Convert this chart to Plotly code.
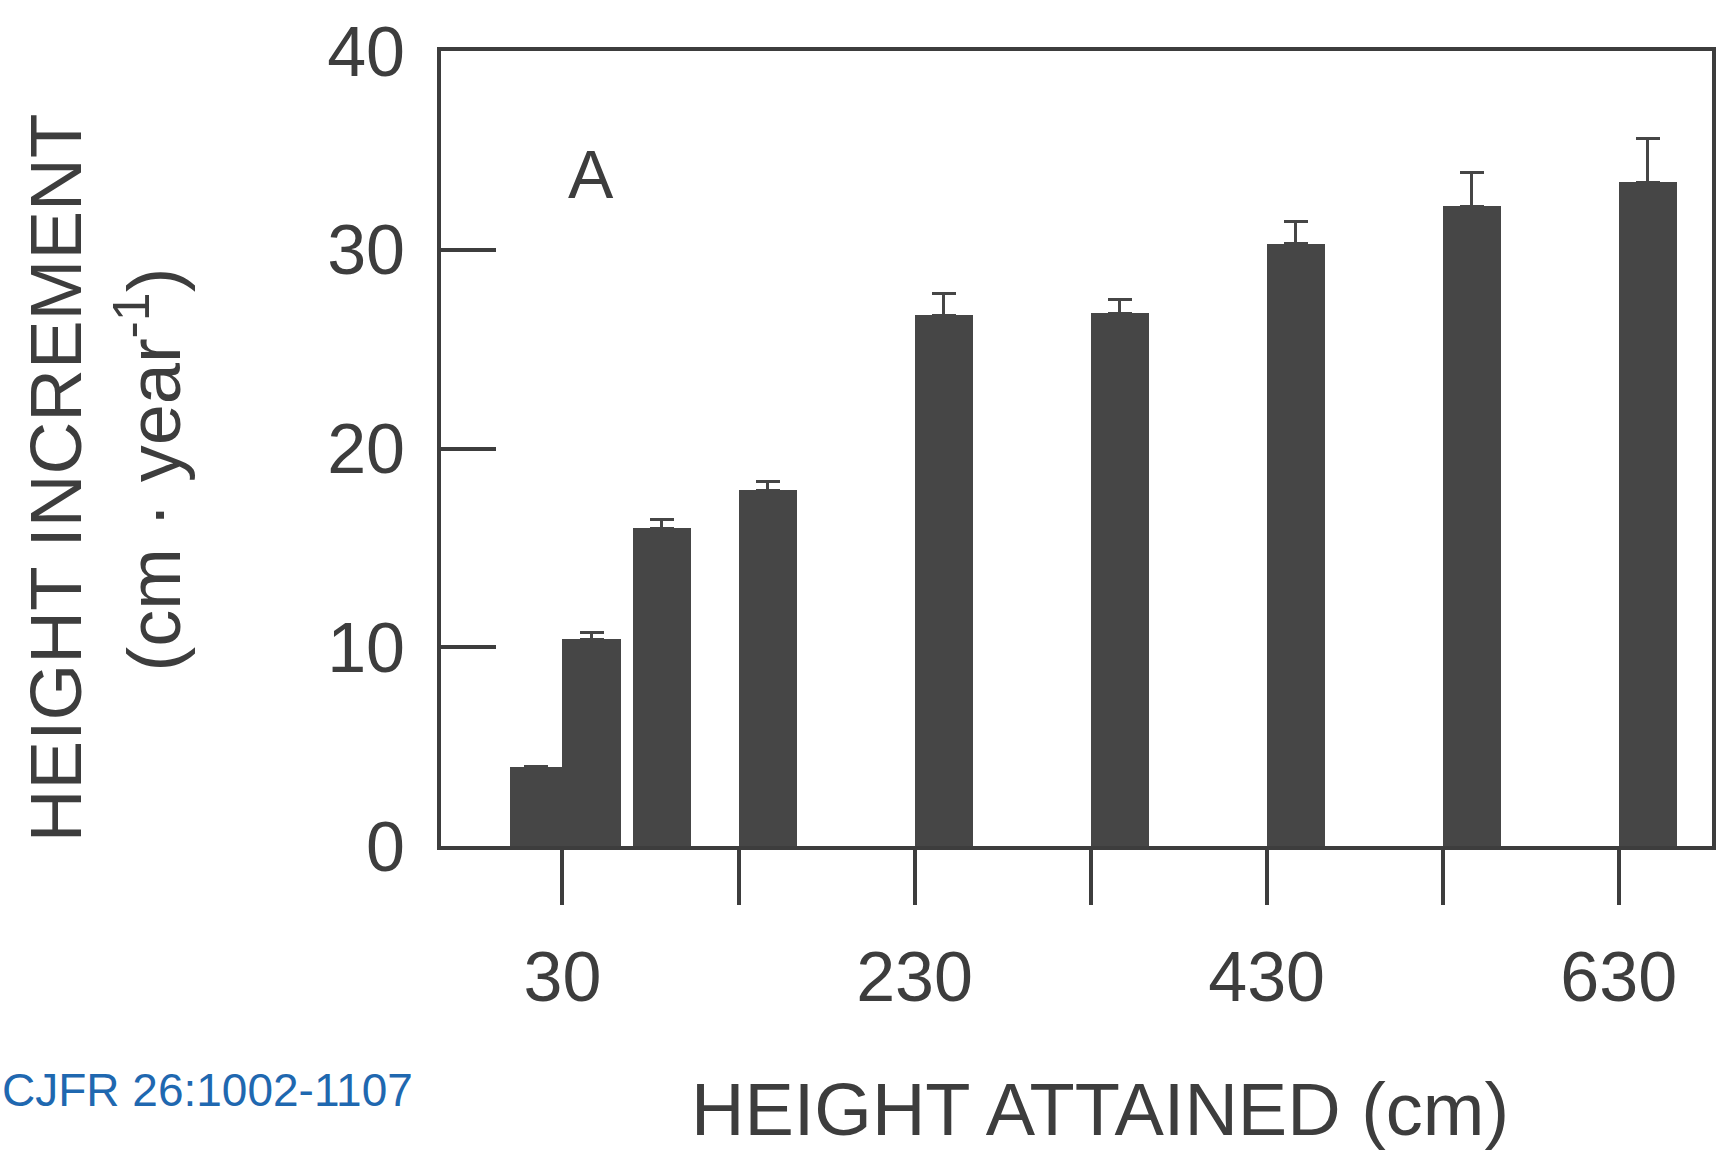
import plotly.graph_objects as go

# Height classes (left edge of each class, cm) and mean annual height increment
height_class = [0, 30, 70, 130, 230, 330, 430, 530, 630]
increment = [4.0, 10.4, 16.0, 17.9, 26.7, 26.8, 30.3, 32.2, 33.4]
std_err = [0.0, 0.35, 0.45, 0.45, 1.1, 0.7, 1.1, 1.7, 2.2]

x_label_vals = [30, 230, 430, 630]
x_label_text = ["30", "230", "430", "630"]
x_minor_vals = [130, 330, 530]
y_tick_vals = [0, 10, 20, 30, 40]
y_tick_text = ["0", "10", "20", "30", "40"]

INK = "#3d3d3d"
BAR = "#464646"
FONT = "Liberation Sans, Arial, sans-serif"

# each bar spans at most 33 cm, narrower where the next class starts sooner
max_w = 33
widths = [
    min(max_w, height_class[i + 1] - height_class[i]) if i + 1 < len(height_class) else max_w
    for i in range(len(height_class))
]

fig = go.Figure()
fig.add_trace(go.Bar(
    x=height_class,
    y=increment,
    width=widths,
    offset=0,
    marker=dict(color=BAR, line=dict(width=0)),
    error_y=dict(
        type="data",
        symmetric=False,
        array=std_err,
        arrayminus=[0] * len(std_err),
        color=BAR,
        thickness=3,
        width=12,
    ),
    showlegend=False,
))

fig.update_layout(
    width=1729,
    height=1152,
    margin=dict(l=441, r=17, t=44, b=306),
    paper_bgcolor="white",
    plot_bgcolor="white",
    font=dict(family=FONT, color=INK),
    bargap=0,
    xaxis=dict(
        range=[-39, 683],
        tickmode="array",
        tickvals=x_label_vals,
        ticktext=x_label_text,
        ticks="outside",
        ticklen=55,
        tickwidth=4,
        tickcolor=INK,
        tickfont=dict(size=70, color=INK),
        ticklabelstandoff=12,
        minor=dict(
            tickmode="array",
            tickvals=x_minor_vals,
            ticks="outside",
            ticklen=55,
            tickwidth=4,
            tickcolor=INK,
            showgrid=False,
        ),
        showline=True,
        linewidth=4,
        linecolor=INK,
        mirror=True,
        showgrid=False,
        zeroline=False,
    ),
    yaxis=dict(
        range=[0, 40],
        tickmode="array",
        tickvals=y_tick_vals,
        ticktext=y_tick_text,
        ticks="inside",
        ticklen=55,
        tickwidth=4,
        tickcolor=INK,
        tickfont=dict(size=70, color=INK),
        ticklabelstandoff=18,
        showline=True,
        linewidth=4,
        linecolor=INK,
        mirror=True,
        showgrid=False,
        zeroline=False,
    ),
)

annotations = [
    dict(text="A", x=46, y=33.8, xref="x", yref="y", showarrow=False,
         font=dict(size=68, color=INK), xanchor="center", yanchor="middle"),
    dict(text="HEIGHT ATTAINED (cm)", x=0.5185, y=-0.3317, xref="paper", yref="paper",
         showarrow=False, font=dict(size=74, color=INK), xanchor="center", yanchor="middle"),
    dict(text="HEIGHT INCREMENT", x=-0.3037, y=0.4638, xref="paper", yref="paper",
         showarrow=False, textangle=-90, font=dict(size=73, color=INK),
         xanchor="center", yanchor="middle"),
    dict(text="(cm · year<sup>-1</sup>)", x=-0.2297, y=0.4738, xref="paper", yref="paper",
         showarrow=False, textangle=-90, font=dict(size=74, color=INK),
         xanchor="center", yanchor="middle"),
    dict(text="CJFR 26:1002-1107", x=-0.0205, y=-0.3067, xref="paper", yref="paper",
         showarrow=False, font=dict(size=46, color="#1f68b0"),
         xanchor="right", yanchor="middle"),
]
fig.update_layout(annotations=annotations)

fig.write_html("out.html")
